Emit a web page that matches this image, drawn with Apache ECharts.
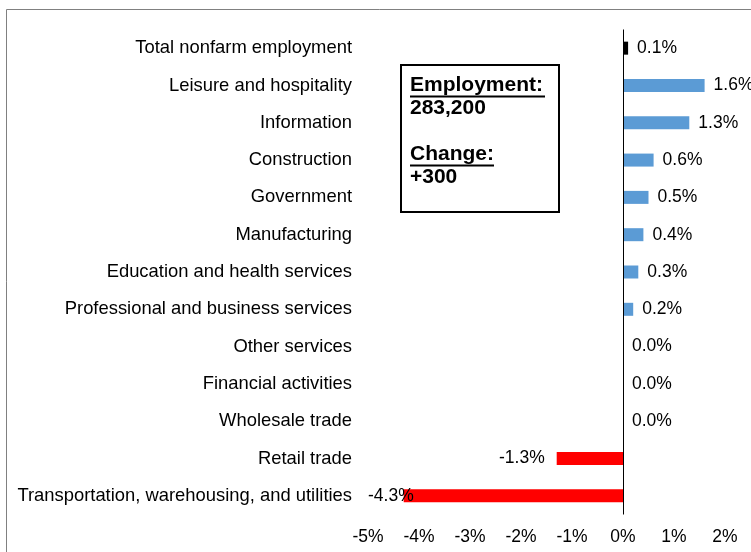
<!DOCTYPE html>
<html>
<head>
<meta charset="utf-8">
<script src="https://cdn.jsdelivr.net/npm/echarts@6/dist/echarts.min.js"></script>
<style>
html,body{margin:0;padding:0;background:#fff;}
#c{width:751px;height:552px;}
</style>
</head>
<body>
<div id="c"></div>
<script>
const categories = [
  'Total nonfarm employment',
  'Leisure and hospitality',
  'Information',
  'Construction',
  'Government',
  'Manufacturing',
  'Education and health services',
  'Professional and business services',
  'Other services',
  'Financial activities',
  'Wholesale trade',
  'Retail trade',
  'Transportation, warehousing, and utilities'
];
const changePct = [0.1, 1.6, 1.3, 0.6, 0.5, 0.4, 0.3, 0.2, 0.0, 0.0, 0.0, -1.3, -4.3];
const xTicks = [-5, -4, -3, -2, -1, 0, 1, 2];
const employmentText = '283,200';
const changeText = '+300';

const FONT = "'Liberation Sans', Arial, sans-serif";
const chart = echarts.init(document.getElementById('c'));

const seriesData = changePct.map((v, i) => {
  const item = {
    value: v,
    itemStyle: { color: i === 0 ? '#000000' : (v < 0 ? '#FF0000' : '#5B9BD5') }
  };
  if (v < 0) {
    item.label = { position: 'left', distance: 12 };
  }
  if (v <= xTicks[0] + 1) {
    item.label = { position: 'left', distance: 10, offset: [20, 0] };
  }
  return item;
});

chart.setOption({
  animation: false,
  backgroundColor: '#fff',
  grid: { left: 368, right: 26, top: 29.5, height: 485, containLabel: false },
  xAxis: {
    type: 'value',
    min: xTicks[0],
    max: xTicks[xTicks.length - 1],
    interval: 1,
    axisLine: { show: false },
    axisTick: { show: false },
    splitLine: { show: false },
    axisLabel: {
      margin: 14,
      fontFamily: FONT,
      fontSize: 17.5,
      color: '#000',
      formatter: v => v + '%'
    }
  },
  yAxis: {
    type: 'category',
    inverse: true,
    data: categories,
    axisLine: { show: false },
    axisTick: { show: false },
    axisLabel: { margin: 16, fontFamily: FONT, fontSize: 18.4, color: '#000' }
  },
  series: [{
    type: 'bar',
    data: seriesData,
    barWidth: 13,
    label: {
      show: true,
      position: 'right',
      distance: 9,
      fontFamily: FONT,
      fontSize: 17.5,
      color: '#000',
      formatter: p => p.value.toFixed(1) + '%'
    },
    markLine: {
      silent: true,
      symbol: 'none',
      label: { show: false },
      lineStyle: { color: '#000', width: 1, type: 'solid' },
      data: [{ xAxis: 0 }]
    }
  }],
  graphic: [
    {
      type: 'rect',
      shape: { x: 6.5, y: 9.5, width: 800, height: 600 },
      style: { fill: 'none', stroke: '#808080', lineWidth: 1 },
      silent: true
    },
    {
      type: 'rect',
      shape: { x: 401, y: 65, width: 158, height: 147 },
      style: { fill: '#fff', stroke: '#000', lineWidth: 2 },
      z: 10
    },
    {
      type: 'text',
      x: 410, y: 74,
      z: 11,
      style: {
        text: 'Employment:\n' + employmentText + '\n\nChange:\n' + changeText,
        fontFamily: FONT,
        fontSize: 21,
        fontWeight: 'bold',
        lineHeight: 23,
        fill: '#000'
      }
    },
    {
      type: 'line', z: 11,
      shape: { x1: 410, y1: 96.5, x2: 545, y2: 96.5 },
      style: { stroke: '#000', lineWidth: 2 }
    },
    {
      type: 'line', z: 11,
      shape: { x1: 410, y1: 165.5, x2: 494, y2: 165.5 },
      style: { stroke: '#000', lineWidth: 2 }
    }
  ]
});
</script>
</body>
</html>
